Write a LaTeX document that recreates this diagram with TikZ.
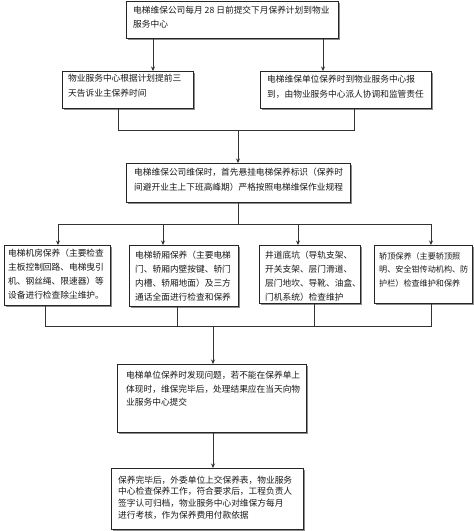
\documentclass[tikz,border=0pt]{standalone}
\usepackage{fontspec}
\setmainfont{Noto Sans CJK SC}
\usetikzlibrary{arrows.meta,shadows}
\tikzset{
 frame/.style={draw=black!85, line width=0.8pt, fill=white, inner sep=0pt, anchor=north west,
   drop shadow={shadow xshift=1.2pt, shadow yshift=-1.2pt, fill=black!45, opacity=1}},
 txt/.style={anchor=north west, inner sep=0pt, align=left, text=black!90},
 link/.style={draw=black!80, line width=0.7pt},
 arr/.style={link, -{Stealth[length=4.5pt,width=4pt]}},
}
\newcommand\fbx[5]{\node[frame, minimum width=#4pt, minimum height=#5pt] (#1) at (#2,#3) {};}
\newcommand\fsz[1]{\fontsize{8.7}{#1}\selectfont}
\begin{document}
\begin{tikzpicture}[x=1pt,y=-1pt]
\useasboundingbox (0,0) rectangle (474,531);
% boxes
\fbx{b1}{126}{1}{212}{37}
\fbx{b2a}{62}{71}{131}{37}
\fbx{b2b}{260}{71}{171}{37}
\fbx{b3}{126}{163}{224}{39}
\fbx{b4a}{4}{245}{106}{60}
\fbx{b4b}{129}{245}{109}{61}
\fbx{b4c}{259}{245}{101}{58}
\fbx{b4d}{374}{245}{98}{58}
\fbx{b5}{117}{364}{189}{68}
\fbx{b6}{111}{468}{192}{61}
% texts
\node[txt, font=\fsz{14}] (t1) at (133,5.6) {电梯维保公司每月 28 日前提交下月保养计划到物业\\服务中心};
\node[txt, font=\fsz{15}] (t2a) at (68,73.6) {物业服务中心根据计划提前三\\天告诉业主保养时间};
\node[txt, font=\fsz{15}] (t2b) at (267,74.6) {电梯维保单位保养时到物业服务中心报\\到，由物业服务中心派人协调和监管责任};
\node[txt, font=\fsz{15}] (t3) at (134,167.6) {电梯维保公司维保时，首先悬挂电梯保养标识（保养时\\间避开业主上下班高峰期）严格按照电梯维保作业规程};
\node[txt, font=\fsz{14}] (t4a) at (8,248.6) {电梯机房保养（主要检查\\主板控制回路、电梯曳引\\机、钢丝绳、限速器）等\\设备进行检查除尘维护。};
\node[txt, font=\fsz{14}] (t4b) at (135,250.6) {电梯轿厢保养（主要电梯\\门、轿厢内壁按键、轿门\\内槽、轿厢地面）及三方\\通话全面进行检查和保养};
\node[txt, font=\fsz{13.8}] (t4c) at (265,251) {井道底坑（导轨支架、\\开关支架、层门滑道、\\层门地坎、导靴、油盒、\\门机系统）检查维护};
\node[txt, font=\fontsize{8.1}{13.5}\selectfont] (t4d) at (379,252) {轿顶保养（主要轿顶照\\明、安全钳传动机构、防\\护栏）检查维护和保养};
\node[txt, font=\fsz{13.5}] (t5) at (126,371) {电梯单位保养时发现问题，若不能在保养单上\\体现时，维保完毕后，处理结果应在当天向物\\业服务中心提交};
\node[txt, font=\fsz{11.8}] (t6) at (118,475.6) {保养完毕后，外委单位上交保养表，物业服务\\中心检查保养工作，符合要求后，工程负责人\\签字认可归档，物业服务中心对维保方每月\\进行考核，作为保养费用付款依据};
% helper coordinates
\coordinate (x153) at (153,0);
\coordinate (x323) at (323,0);
\coordinate (j1) at (238,130);
\coordinate (j1l) at (118,130);
\coordinate (j1r) at (354,130);
\coordinate (j2) at (238,224);
\coordinate (j2l) at (58,224);
\coordinate (j2b) at (163,224);
\coordinate (j2c) at (298,224);
\coordinate (j2r) at (431,224);
\coordinate (j3) at (213,326);
\coordinate (j3a) at (45,326);
\coordinate (j3b) at (177,326);
\coordinate (j3c) at (314,326);
\coordinate (j3d) at (431,326);
% connectors
\draw[arr] (b1.south -| x153) -- (b2a.north -| x153);
\draw[arr] (b1.south -| x323) -- (b2b.north -| x323);
\draw[link] (b2a.south -| j1l) -- (j1l) -- (j1r) -- (b2b.south -| j1r);
\draw[arr] (j1) -- (b3.north -| j1);
\draw[link] (b3.south -| j2) -- (j2);
\draw[link] (j2l) -- (j2r);
\draw[arr] (j2l) -- (b4a.north -| j2l);
\draw[arr] (j2b) -- (b4b.north -| j2b);
\draw[arr] (j2c) -- (b4c.north -| j2c);
\draw[arr] (j2r) -- (b4d.north -| j2r);
\draw[link] (b4a.south -| j3a) -- (j3a) -- (j3d) -- (b4d.south -| j3d);
\draw[link] (b4b.south -| j3b) -- (j3b);
\draw[link] (b4c.south -| j3c) -- (j3c);
\draw[arr] (j3) -- (b5.north -| j3);
\draw[arr] (b5.south -| j3) -- (b6.north -| j3);
\end{tikzpicture}
\end{document}
